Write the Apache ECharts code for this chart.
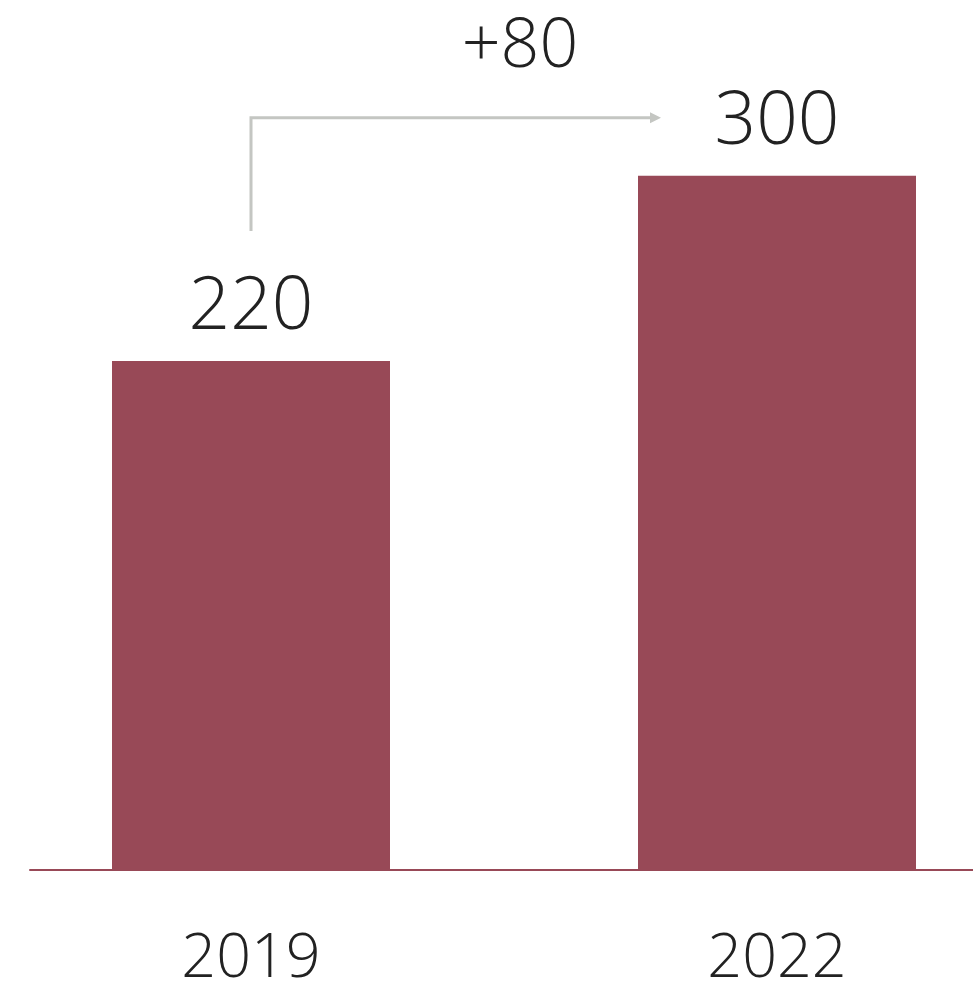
<!DOCTYPE html>
<html><head><meta charset="utf-8">
<script src="https://cdn.jsdelivr.net/npm/echarts@6/dist/echarts.min.js"></script>
<style>html,body{margin:0;padding:0;background:#fff}#c{width:973px;height:986px}</style>
</head><body><div id="c"></div>
<script>
const categories = ['2019', '2022'];
const values = [220, 300];
const deltaLabel = '+' + (values[1] - values[0]);

const BAR = '#984957';
const FONT = '"Open Sans", "Segoe UI", sans-serif';
const chart = echarts.init(document.getElementById('c'));
chart.setOption({
  animation: false,
  grid: [
    {left: -12, right: -67, top: 0, bottom: 116, outerBoundsMode: 'none', containLabel: false},
    {left: 30, right: 0, top: 0, bottom: 116, outerBoundsMode: 'none', containLabel: false}
  ],
  xAxis: [
    {type: 'category', data: categories, gridIndex: 0,
     axisLine: {show: false}, axisTick: {show: false},
     axisLabel: {fontSize: 61, fontFamily: FONT, fontWeight: 300, color: '#222', margin: 59}},
    {type: 'value', gridIndex: 1, min: 0, max: 1,
     axisLine: {show: true, lineStyle: {color: BAR, width: 2}},
     axisTick: {show: false}, axisLabel: {show: false}, splitLine: {show: false}}
  ],
  yAxis: [
    {type: 'value', gridIndex: 0, min: 0, max: 376, show: false, splitLine: {show: false}},
    {type: 'value', gridIndex: 1, min: 0, max: 376, show: false, splitLine: {show: false}}
  ],
  series: [{
    type: 'bar', data: values, barWidth: 278,
    itemStyle: {color: BAR},
    label: {show: true, position: 'top', distance: 16, fontSize: 73, fontFamily: FONT, fontWeight: 300, color: '#222'}
  }]
});

const p0 = chart.convertToPixel({gridIndex: 0}, [0, values[0]]);
const p1 = chart.convertToPixel({gridIndex: 0}, [1, values[1]]);
const x0 = p0[0], yStart = p0[1] - 130, yTop = p1[1] - 58, xEnd = p1[0] - 127;
const GRAY = '#c4c6c2';
chart.setOption({
  graphic: [
    {type: 'polyline', shape: {points: [[x0, yStart], [x0, yTop], [xEnd, yTop]]},
     style: {stroke: GRAY, lineWidth: 3, fill: null}},
    {type: 'polygon', shape: {points: [[xEnd, yTop - 5.5], [xEnd + 11, yTop], [xEnd, yTop + 5.5]]},
     style: {fill: GRAY}},
    {type: 'text', x: (x0 + p1[0]) / 2 + 6, y: 48,
     style: {text: deltaLabel, fontSize: 68, fontFamily: FONT, fontWeight: 300, fill: '#222',
             align: 'center', verticalAlign: 'middle'}}
  ]
});
</script></body></html>
